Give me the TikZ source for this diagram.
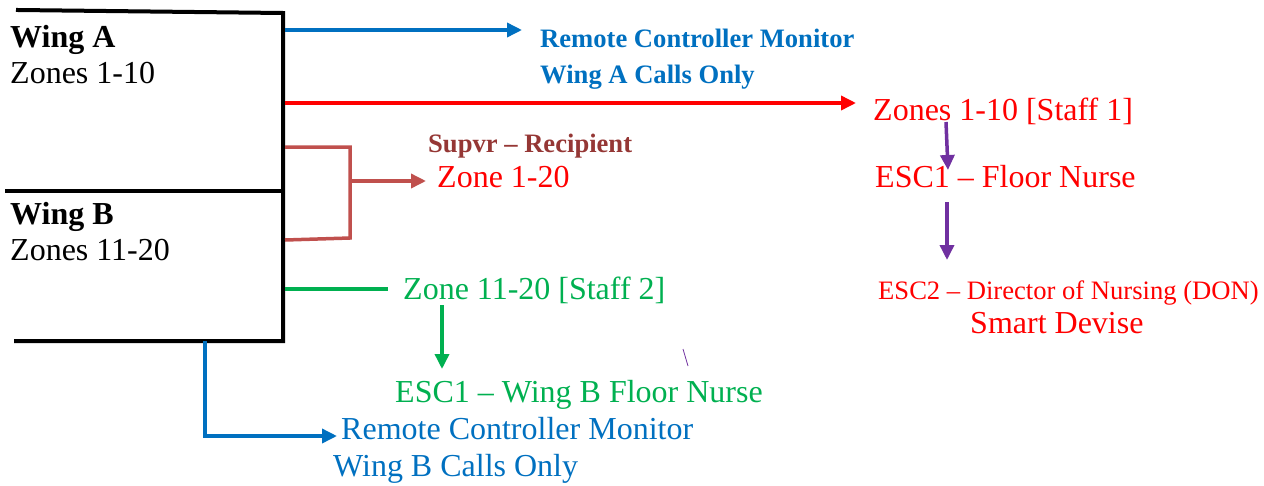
\documentclass[tikz,border=0pt]{standalone}
\usepackage{fontspec}
\setmainfont{Liberation Serif}
\usetikzlibrary{arrows.meta}
\definecolor{cblue}{HTML}{0070C0}
\definecolor{cred}{HTML}{FF0000}
\definecolor{cbrown}{HTML}{953735}
\definecolor{cbracket}{HTML}{C0504D}
\definecolor{cgreen}{HTML}{00B050}
\definecolor{cpurple}{HTML}{7030A0}
\newcommand{\szL}{\fontsize{32}{38}\selectfont}
\newcommand{\szS}{\fontsize{26.6}{32}\selectfont}
\tikzset{
  lbl/.style={anchor=base west, inner sep=0pt},
  big/.style={lbl, font=\szL},
  small/.style={lbl, font=\szS},
  wall/.style={line width=4pt, line cap=rect},
  link/.style={line width=3.5pt},
  tip/.style={-{Triangle[length=15pt,width=14pt]}}
}
\begin{document}
\begin{tikzpicture}[x=1pt,y=-1pt]
\useasboundingbox (0,0) rectangle (1264,485);

% wing outline
\coordinate (tl) at (18,10);
\coordinate (tr) at (283,13);
\coordinate (mr) at (283,191);
\coordinate (ml) at (7,191);
\coordinate (br) at (283,341);
\coordinate (bl) at (16,341);
\draw[wall] (tl) -- (tr) -- (br) -- (bl);
\draw[wall] (ml) -- (mr);

% wing labels
\node[big, font=\szL\bfseries] (wa) at (10,47) {Wing A};
\node[big] (za) at (10,83) {Zones 1-10};
\node[big, font=\szL\bfseries] (wb) at (10,224) {Wing B};
\node[big] (zb) at (10,260) {Zones 11-20};

% destination labels
\node[small, font=\szS\bfseries, text=cblue] (rcma) at (540,47) {Remote Controller Monitor};
\node[small, font=\szS\bfseries, text=cblue] (rcmacalls) at (540,83) {Wing A Calls Only};
\node[big, text=cred] (st1) at (873,120) {Zones 1-10 [Staff 1]};
\node[small, font=\szS\bfseries, text=cbrown] (supvr) at (428,152) {Supvr -- Recipient};
\node[big, text=cred] (z120) at (437,187) {Zone 1-20};
\node[big, text=cred] (esc1a) at (875,187) {ESC1 -- Floor Nurse};
\node[big, text=cgreen] (st2) at (403,299) {Zone 11-20 [Staff 2]};
\node[small, text=cred] (esc2) at (878,299) {ESC2 -- Director of Nursing (DON)};
\node[big, text=cred] (smart) at (970,333) {Smart Devise};
\node[big, text=cgreen] (esc1b) at (395,402) {ESC1 -- Wing B Floor Nurse};
\node[big, text=cblue] (rcmb) at (341,439) {Remote Controller Monitor};
\node[big, text=cblue] (rcmbcalls) at (333,476) {Wing B Calls Only};

% Wing A remote monitor
\coordinate (aBlueS) at (285,30);
\coordinate (aBlueE) at (522,30);
\draw[link, cblue, tip] (aBlueS) -- (aBlueE);

% Wing A staff 1
\coordinate (aRedS) at (285,103);
\coordinate (aRedE) at (856,103);
\draw[link, cred, tip] (aRedS) -- (aRedE);

% supervisor bracket
\coordinate (brA) at (285,147);
\coordinate (brAc) at (350,147);
\coordinate (brBc) at (350,238);
\coordinate (brB) at (285,240);
\coordinate (brM) at (350,181);
\coordinate (brE) at (426,181);
\draw[link, cbracket, line join=miter] (brA) -- (brAc) -- (brBc) -- (brB);
\draw[link, cbracket, tip] (brM) -- (brE);

% Wing B staff 2
\coordinate (bGreenS) at (285,289);
\coordinate (bGreenE) at (388,289);
\draw[link, cgreen] (bGreenS) -- (bGreenE);
\coordinate (gDownS) at (442,305);
\coordinate (gDownE) at (442,369);
\draw[link, cgreen, tip] (gDownS) -- (gDownE);

% escalation chain, Wing A
\coordinate (p1S) at (946,122);
\coordinate (p1E) at (948,170);
\draw[link, cpurple, tip] (p1S) -- (p1E);
\coordinate (p2S) at (947,202);
\coordinate (p2E) at (947,260);
\draw[link, cpurple, tip] (p2S) -- (p2E);

% stray stroke
\coordinate (sk1) at (683,349);
\coordinate (sk2) at (688,366);
\draw[cpurple, line width=0.8pt] (sk1) -- (sk2);

% Wing B remote monitor
\coordinate (bBlueS) at (205,341);
\coordinate (bBlueC) at (205,436);
\coordinate (bBlueE) at (337,436);
\draw[link, cblue, tip, line join=miter] (bBlueS) -- (bBlueC) -- (bBlueE);
\end{tikzpicture}
\end{document}
